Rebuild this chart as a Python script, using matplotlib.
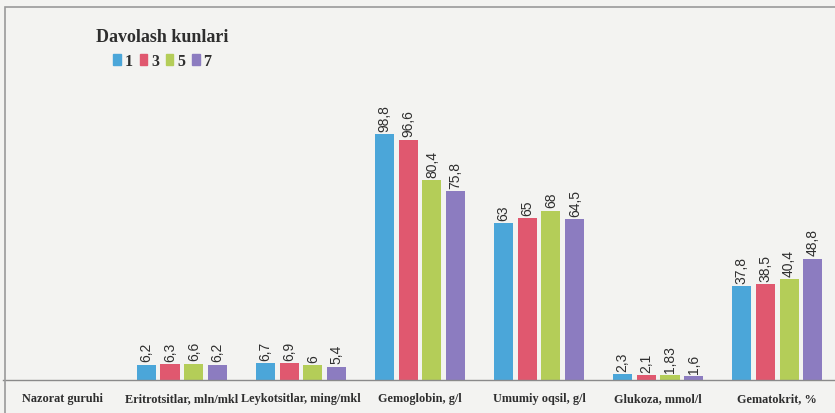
import matplotlib.pyplot as plt
import matplotlib.patches as mpatches
import numpy as np

# ------------------------------------------------
# Data
# ------------------------------------------------
categories = ["Nazorat guruhi", "Eritrotsitlar, mln/mkl", "Leykotsitlar, ming/mkl",
              "Gemoglobin, g/l", "Umumiy oqsil, g/l", "Glukoza, mmol/l", "Gematokrit, %"]
series_names = ["1", "3", "5", "7"]
day1 = [np.nan, 6.2, 6.7, 98.8, 63, 2.3, 37.8]
day3 = [np.nan, 6.3, 6.9, 96.6, 65, 2.1, 38.5]
day5 = [np.nan, 6.6, 6.0, 80.4, 68, 1.83, 40.4]
day7 = [np.nan, 6.2, 5.4, 75.8, 64.5, 1.6, 48.8]

colors = ["#4ba6d9", "#e0586f", "#b4cd58", "#8c7cc0"]
bg = "#f3f3f1"
font = "Liberation Serif"
txt_col = "#2e2e2e"

def fmt(v):
    return f"{v:g}".replace(".", ",")

# ------------------------------------------------
# Plot
# ------------------------------------------------
fig = plt.figure(figsize=(8.35, 4.14), dpi=100, facecolor=bg)
ax = fig.add_axes([0.004, (414 - 381) / 414, 0.998, (381 - 30) / 414])
ax.set_facecolor("none")

x = np.arange(len(categories))
width = 0.16
step = 0.2
series = [day1, day3, day5, day7]
for i, (vals, col, name) in enumerate(zip(series, colors, series_names)):
    pos = x + (i - 1.5) * step
    ax.bar(pos, vals, width=width, color=col, label=name)
    for xp, v in zip(pos, vals):
        if np.isnan(v):
            continue
        ax.text(xp, v + 1.3, fmt(v), rotation=90, ha="center", va="bottom",
                fontsize=10, family="Liberation Sans", color=txt_col)

ax.set_xlim(-0.5, len(categories) - 0.5)
ax.set_ylim(0, 141)
ax.set_yticks([])
ax.set_xticks(x)
ax.set_xticklabels(categories, fontsize=8.8, fontweight="bold", family=font, color=txt_col)
ax.tick_params(axis="x", length=0, pad=9)
for s in ["top", "right", "left"]:
    ax.spines[s].set_visible(False)
ax.spines["bottom"].set_color("#8a8a8a")
ax.spines["bottom"].set_linewidth(1.0)

# legend
handles = [mpatches.Patch(color=c, label=n) for c, n in zip(colors, series_names)]
leg = fig.legend(handles=handles, title="Davolash kunlari", loc="upper left",
                 bbox_to_anchor=(0.098, 0.965), ncol=4, frameon=False,
                 handlelength=0.45, handleheight=0.7, handletextpad=0.25, columnspacing=0.45,
                 prop={"family": font, "weight": "bold", "size": 11.5})
leg.get_title().set_fontproperties({"family": font, "weight": "bold", "size": 13})
leg.get_title().set_color(txt_col)
for t in leg.get_texts():
    t.set_color(txt_col)

# outer frame
fig.patches.append(mpatches.Rectangle((0.006, -0.01), 1.0, 0.99, transform=fig.transFigure,
                                      fill=False, edgecolor="#9a9a9a", linewidth=1.2))

fig.savefig("out.png", dpi=100, facecolor=bg)
